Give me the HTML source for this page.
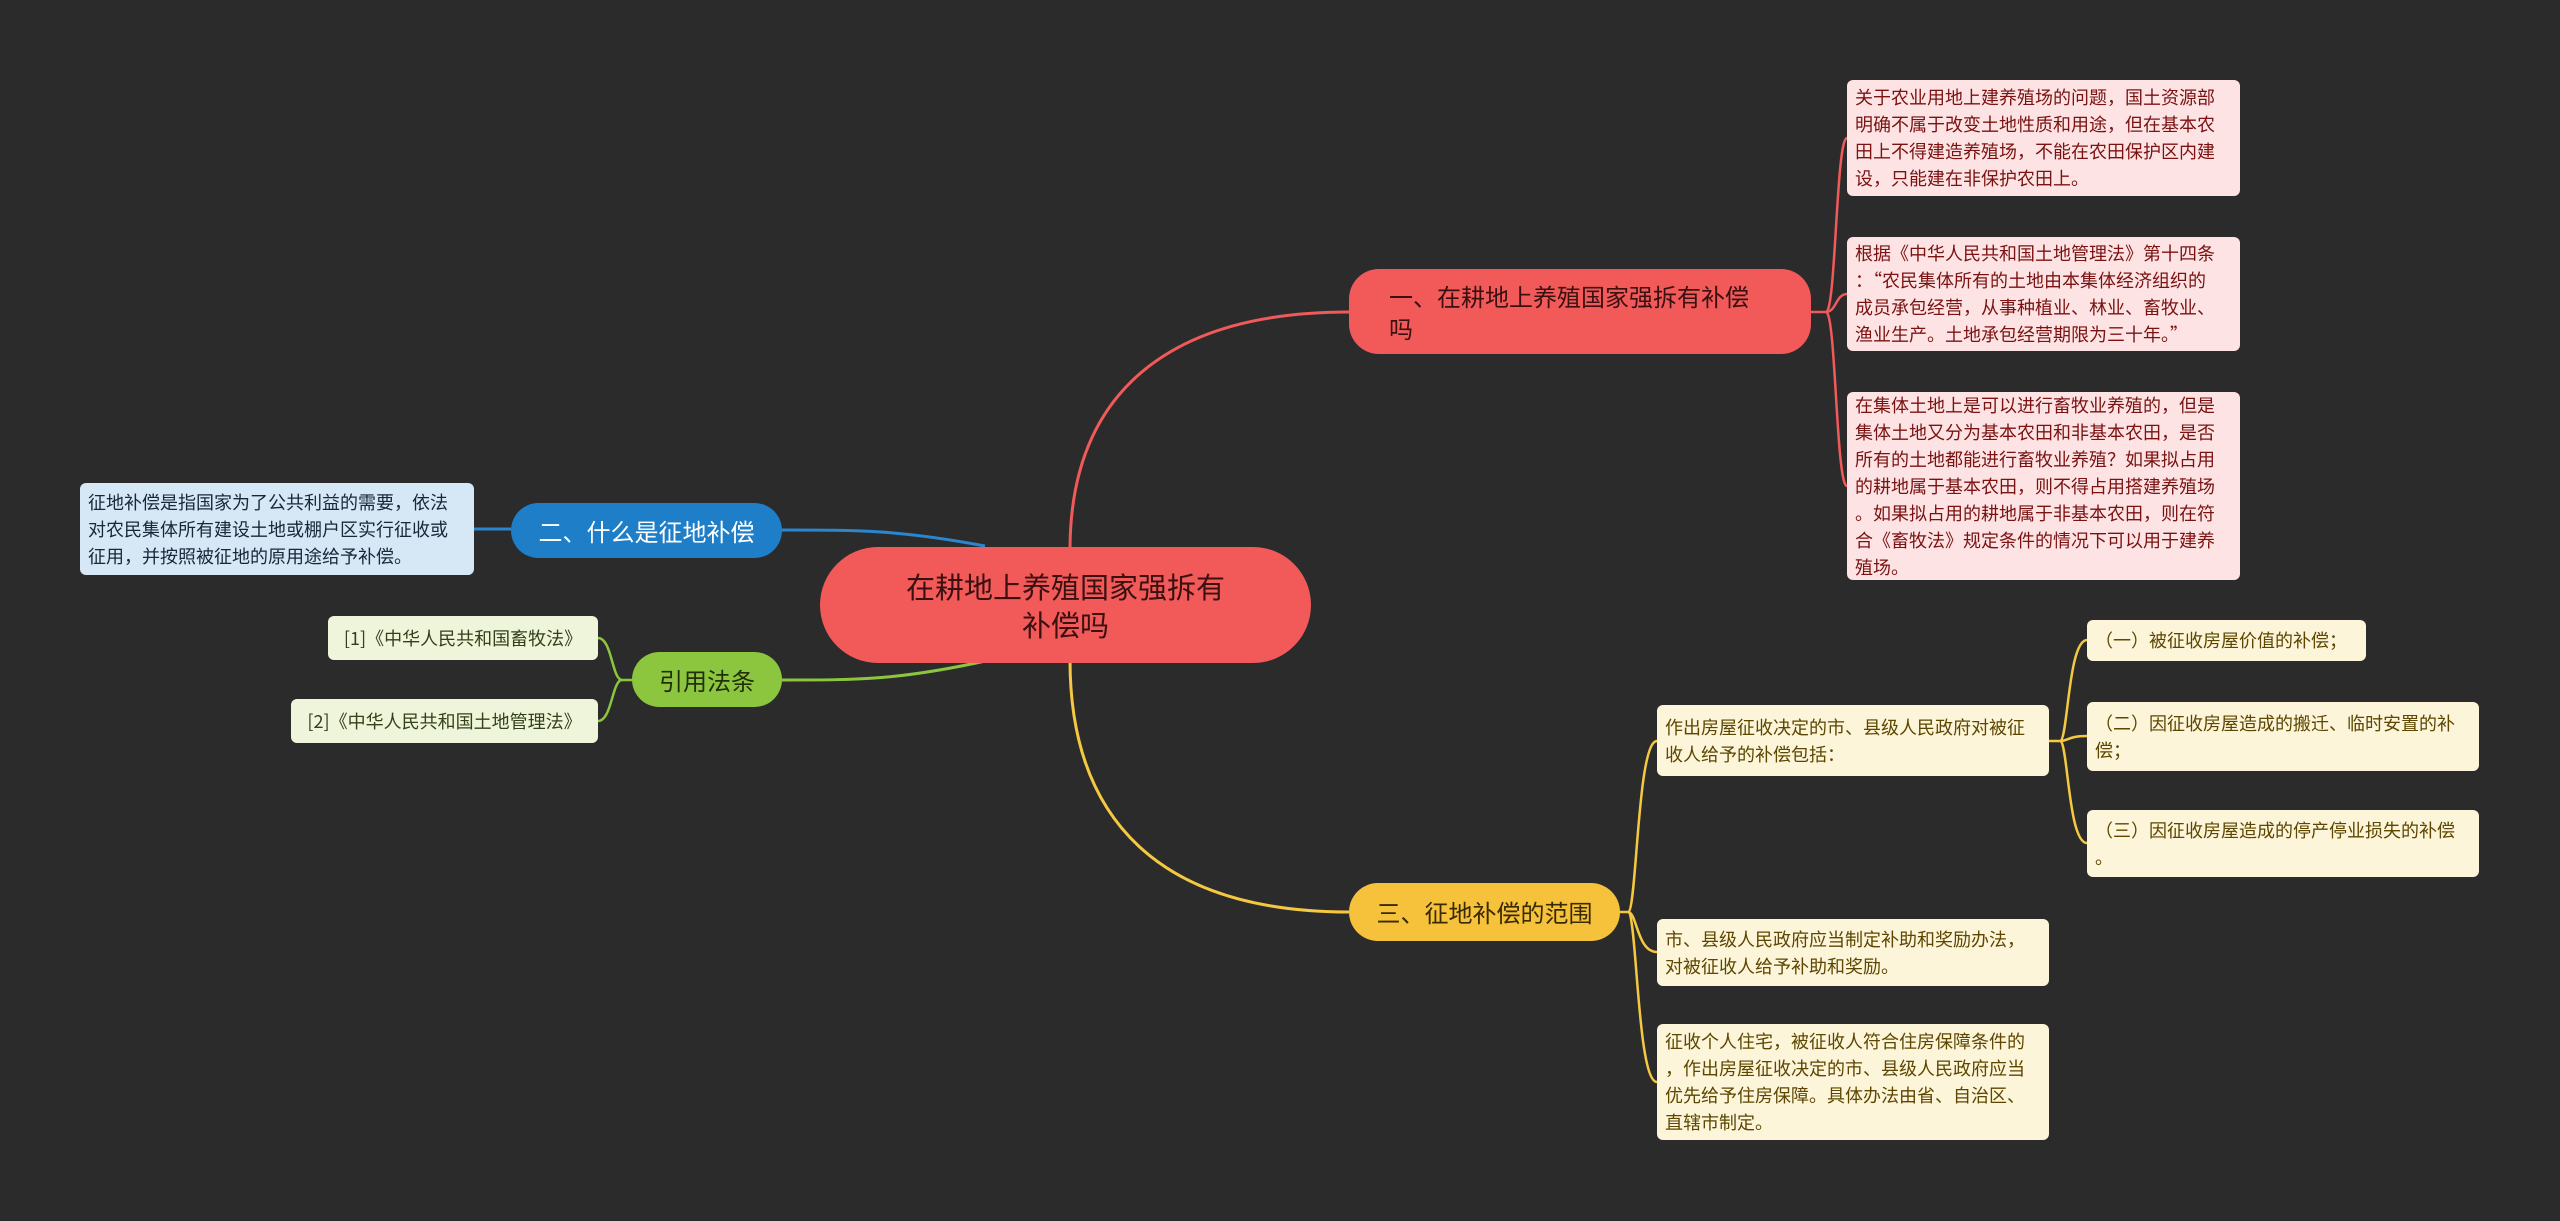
<!DOCTYPE html>
<html><head><meta charset="utf-8">
<style>
body{margin:0;width:2560px;height:1221px;background:#2b2b2b;overflow:hidden;position:relative;font-family:"Noto Sans CJK SC","Liberation Sans",sans-serif;}
.n{position:absolute;box-sizing:border-box;display:flex;align-items:center;}
.leaf{font-size:18px;line-height:27px;padding:4px 8px;border-radius:6px;white-space:nowrap;}
.r{background:#fde3e3;color:#7a1212;}
.y{background:#fdf5d9;color:#5c4600;}
.b{background:#d6e7f6;color:#16283a;}
.g{background:#eef5db;color:#33401a;}
.br{border-radius:30px;font-size:24px;line-height:32px;padding:0 40px;}
</style></head><body>
<svg width="2560" height="1221" style="position:absolute;left:0;top:0">
<g fill="none" stroke-width="3">
<path d="M1070 550 C1070 400,1160 312,1349 312" stroke="#f05a5a"/>
<path d="M1070 660 C1070 820,1160 912,1349 912" stroke="#f5c842"/>
<path d="M985 546 C900 530,860 530,782 530" stroke="#2a86cf"/>
<path d="M990 660 C900 680,860 680,782 680" stroke="#8cc63f"/>
<path d="M474 529 L511 529" stroke="#2a86cf"/>
<path d="M1811 312 L1826 312 M1826 312 C1836 312,1836 138,1847 138 M1826 312 C1836 312,1836 486,1847 486 M1826 312 C1836 312,1836 294,1847 294" stroke="#f05a5a" stroke-width="2.5"/>
<path d="M1620 912 L1628 912 M1628 912 C1637 912,1637 741,1657 741 M1628 912 C1637 912,1637 952,1657 952 M1628 912 C1637 912,1637 1082,1657 1082" stroke="#f5c842" stroke-width="2.5"/>
<path d="M2049 741 L2060 741 M2060 741 C2068 741,2068 640,2087 640 M2060 741 C2068 741,2068 736,2087 736 M2060 741 C2068 741,2068 843,2087 843" stroke="#f5c842" stroke-width="2.5"/>
<path d="M632 680 L622 680 M622 680 C612 680,612 638,598 638 M622 680 C612 680,612 721,598 721" stroke="#8cc63f" stroke-width="2.5"/>
</g></svg>

<div class="n" style="left:820px;top:547px;width:491px;height:116px;border-radius:58px;background:#f25a5a;color:#3a1010;font-size:29px;line-height:38px;justify-content:center;text-align:center;padding:0 80px;">在耕地上养殖国家强拆有补偿吗</div>

<div class="n br" style="left:1349px;top:269px;width:462px;height:85px;background:#f25a5a;color:#3a1010;">一、在耕地上养殖国家强拆有补偿吗</div>
<div class="n br" style="left:511px;top:503px;width:271px;height:55px;background:#1e7ec8;color:#fff;justify-content:center;padding:0;">二、什么是征地补偿</div>
<div class="n br" style="left:632px;top:652px;width:150px;height:55px;background:#8cc63f;color:#22300a;justify-content:center;padding:0;">引用法条</div>
<div class="n br" style="left:1349px;top:883px;width:271px;height:58px;background:#f7c23b;color:#3a2a00;justify-content:center;padding:0;">三、征地补偿的范围</div>

<div class="n leaf r" style="left:1847px;top:80px;width:393px;height:116px;"><div>关于农业用地上建养殖场的问题，国土资源部<br>明确不属于改变土地性质和用途，但在基本农<br>田上不得建造养殖场，不能在农田保护区内建<br>设，只能建在非保护农田上。</div></div>
<div class="n leaf r" style="left:1847px;top:237px;width:393px;height:114px;"><div>根据《中华人民共和国土地管理法》第十四条<br>：“农民集体所有的土地由本集体经济组织的<br>成员承包经营，从事种植业、林业、畜牧业、<br>渔业生产。土地承包经营期限为三十年。”</div></div>
<div class="n leaf r" style="left:1847px;top:392px;width:393px;height:188px;"><div>在集体土地上是可以进行畜牧业养殖的，但是<br>集体土地又分为基本农田和非基本农田，是否<br>所有的土地都能进行畜牧业养殖？如果拟占用<br>的耕地属于基本农田，则不得占用搭建养殖场<br>。如果拟占用的耕地属于非基本农田，则在符<br>合《畜牧法》规定条件的情况下可以用于建养<br>殖场。</div></div>

<div class="n leaf b" style="left:80px;top:483px;width:394px;height:92px;"><div>征地补偿是指国家为了公共利益的需要，依法<br>对农民集体所有建设土地或棚户区实行征收或<br>征用，并按照被征地的原用途给予补偿。</div></div>
<div class="n leaf g" style="left:328px;top:616px;width:270px;height:44px;justify-content:center;">[1]《中华人民共和国畜牧法》</div>
<div class="n leaf g" style="left:291px;top:699px;width:307px;height:44px;justify-content:center;">[2]《中华人民共和国土地管理法》</div>

<div class="n leaf y" style="left:1657px;top:705px;width:392px;height:71px;"><div>作出房屋征收决定的市、县级人民政府对被征<br>收人给予的补偿包括：</div></div>
<div class="n leaf y" style="left:1657px;top:919px;width:392px;height:67px;"><div>市、县级人民政府应当制定补助和奖励办法，<br>对被征收人给予补助和奖励。</div></div>
<div class="n leaf y" style="left:1657px;top:1024px;width:392px;height:116px;"><div>征收个人住宅，被征收人符合住房保障条件的<br>，作出房屋征收决定的市、县级人民政府应当<br>优先给予住房保障。具体办法由省、自治区、<br>直辖市制定。</div></div>
<div class="n leaf y" style="left:2087px;top:620px;width:279px;height:41px;">（一）被征收房屋价值的补偿；</div>
<div class="n leaf y" style="left:2087px;top:702px;width:392px;height:69px;"><div>（二）因征收房屋造成的搬迁、临时安置的补<br>偿；</div></div>
<div class="n leaf y" style="left:2087px;top:810px;width:392px;height:67px;"><div>（三）因征收房屋造成的停产停业损失的补偿<br>。</div></div>
</body></html>
